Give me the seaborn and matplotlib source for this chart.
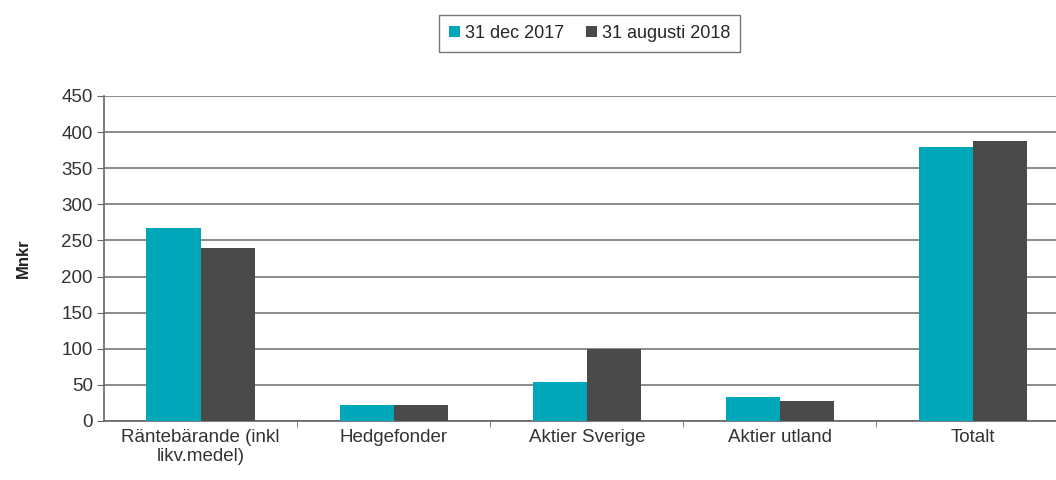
import matplotlib.pyplot as plt
import pandas as pd
import seaborn as sns
from matplotlib.ticker import FixedLocator

# Data
categories = ['Räntebärande (inkl\nlikv.medel)', 'Hedgefonder', 'Aktier Sverige', 'Aktier utland', 'Totalt']
dec_2017 = [267, 22, 54, 33, 379]
aug_2018 = [240, 22, 100, 28, 388]
series_names = ['31 dec 2017', '31 augusti 2018']

df = pd.DataFrame({
    'kategori': categories * 2,
    'serie': [series_names[0]] * len(categories) + [series_names[1]] * len(categories),
    'value': dec_2017 + aug_2018,
})

sns.set_style('white')
plt.rcParams['font.family'] = ['Liberation Sans', 'DejaVu Sans']

fig = plt.figure(figsize=(10.56, 4.8), dpi=100)
ax = fig.add_axes([0.0985, 0.123, 0.9015, 0.677])

sns.barplot(data=df, x='kategori', y='value', hue='serie', order=categories,
            palette=['#00A7B8', '#4A4A4A'], width=0.56, gap=0, saturation=1,
            edgecolor='none', linewidth=0, ax=ax, zorder=3)

ax.set_xlim(-0.5, 4.43)
ax.set_ylim(0, 450)
ax.set_yticks(range(0, 451, 50))
ax.yaxis.grid(True, color='#777777', linewidth=1.2, zorder=0)
ax.set_axisbelow(True)

for side in ['top', 'right']:
    ax.spines[side].set_visible(False)
for side in ['left', 'bottom']:
    ax.spines[side].set_color('#666666')
    ax.spines[side].set_linewidth(1.2)

ax.tick_params(axis='y', which='major', length=5, color='#666666', labelsize=13.5,
               labelcolor='#333333', pad=3, left=True)
ax.tick_params(axis='x', which='major', length=0, labelsize=13.5, labelcolor='#333333', pad=6)
ax.xaxis.set_minor_locator(FixedLocator([0.5, 1.5, 2.5, 3.5]))
ax.tick_params(axis='x', which='minor', length=4, color='#666666', bottom=True, direction='out')
for lbl in ax.get_xticklabels():
    lbl.set_linespacing(1.15)

ax.set_xlabel('')
ax.set_ylabel('Mnkr', fontsize=12, fontweight='bold', color='#222222', labelpad=22)

ax.legend(loc='center', bbox_to_anchor=(0.51, 1.193), ncol=2, frameon=True, fancybox=False,
          edgecolor='#555555', fontsize=13, handlelength=0.6, handleheight=0.6,
          handletextpad=0.3, columnspacing=1.2, borderpad=0.55, title=None)

fig.savefig('out.png', dpi=100)
